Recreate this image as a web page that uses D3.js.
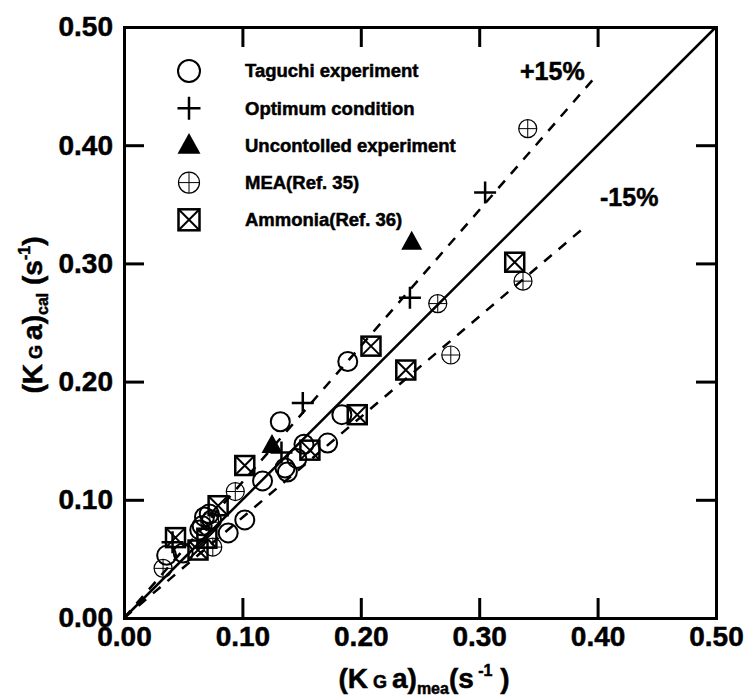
<!DOCTYPE html>
<html>
<head>
<script src="https://d3js.org/d3.v7.min.js"></script>
<style>
  body { margin: 0; background: #fff; }
  text { font-family: "Liberation Sans", Arial, sans-serif; font-weight: bold; stroke: #000; stroke-width: 0.5px; }
</style>
</head>
<body>
<div id="chart"></div>
<script>
const taguchi = [[0.036,0.053],[0.050,0.055],[0.064,0.0745],[0.068,0.0855],[0.074,0.083],[0.072,0.088],
  [0.088,0.072],[0.102,0.083],[0.117,0.116],[0.136,0.127],[0.138,0.1235],[0.146,0.135],[0.152,0.147],
  [0.172,0.148],[0.132,0.166],[0.184,0.172],[0.189,0.217],[0.066,0.078]];
const optimum = [[0.041,0.064],[0.133,0.140],[0.151,0.182],[0.2415,0.271],[0.305,0.360]];
const uncontrolled = [[0.125,0.146],[0.243,0.318]];
const mea = [[0.033,0.042],[0.0725,0.081],[0.075,0.060],[0.094,0.107],[0.265,0.266],[0.276,0.2225],
  [0.337,0.285],[0.341,0.414]];
const ammonia = [[0.0435,0.068],[0.0625,0.0575],[0.070,0.0675],[0.0795,0.095],[0.102,0.129],[0.157,0.142],
  [0.197,0.172],[0.2086,0.230],[0.238,0.2098],[0.330,0.301]];
const ticks = [0, 0.1, 0.2, 0.3, 0.4, 0.5];
const legendLabels = ["Taguchi experiment", "Optimum condition", "Uncontolled experiment", "MEA(Ref. 35)", "Ammonia(Ref. 36)"];
const bandFactors = [1.15, 0.85];
const bandEnds = [0.398, 0.39];

const W = 746, H = 699;
const margin = { top: 27, left: 124, right: 30, bottom: 81 };
const svg = d3.select("#chart").append("svg").attr("width", W).attr("height", H);

const x = d3.scaleLinear().domain([0, 0.5]).range([margin.left, W - margin.right]);
const y = d3.scaleLinear().domain([0, 0.5]).range([H - margin.bottom, margin.top]);
const fmt = d3.format(".2f");

// frame with inward ticks on all sides
const tl = 20;
svg.append("g").attr("transform", `translate(0,${y(0)})`)
  .call(d3.axisBottom(x).tickValues(ticks).tickSize(-tl).tickFormat(fmt).tickPadding(8))
  .call(g => g.selectAll("text").attr("font-size", 28).attr("fill", "#000").attr("dy", "0.72em"));
svg.append("g").attr("transform", `translate(${x(0)},0)`)
  .call(d3.axisLeft(y).tickValues(ticks).tickSize(-tl).tickFormat(fmt).tickPadding(11))
  .call(g => g.selectAll("text").attr("font-size", 28).attr("fill", "#000"));
svg.append("g").attr("transform", `translate(0,${y(0.5)})`)
  .call(d3.axisTop(x).tickValues(ticks).tickSize(-tl).tickFormat(""));
svg.append("g").attr("transform", `translate(${x(0.5)},0)`)
  .call(d3.axisRight(y).tickValues(ticks).tickSize(-tl).tickFormat(""));
svg.selectAll(".domain, .tick line").attr("stroke", "#000").attr("stroke-width", 3);
svg.selectAll(".domain").attr("stroke-linecap", "square");

// parity line and +-15% lines
svg.append("line").attr("x1", x(0)).attr("y1", y(0)).attr("x2", x(0.5)).attr("y2", y(0.5))
  .attr("stroke", "#000").attr("stroke-width", 2.5);
bandFactors.forEach((f, i) => {
  svg.append("line").attr("x1", x(0)).attr("y1", y(0)).attr("x2", x(bandEnds[i])).attr("y2", y(bandEnds[i] * f))
    .attr("stroke", "#000").attr("stroke-width", 2.5).attr("stroke-dasharray", "10,9");
});
svg.append("text").attr("x", 520).attr("y", 80).attr("font-size", 25).text("+15%");
svg.append("text").attr("x", 600).attr("y", 206).attr("font-size", 25).text("-15%");

// marker drawers
function circle(g, s) {
  g.append("circle").attr("r", s / 2).attr("fill", "none").attr("stroke", "#000").attr("stroke-width", 2);
}
function plus(g, s) {
  g.append("path").attr("d", `M${-s/2},0H${s/2}M0,${-s/2}V${s/2}`).attr("stroke", "#000").attr("stroke-width", 2.5);
}
function tri(g, s) {
  const h = s * 0.9;
  g.append("path").attr("d", `M0,${-h*0.6}L${s/2},${h*0.4}L${-s/2},${h*0.4}Z`).attr("fill", "#000");
}
function oplus(g, s) {
  g.append("circle").attr("r", s / 2).attr("fill", "none").attr("stroke", "#000").attr("stroke-width", 1.2);
  g.append("path").attr("d", `M${-s/2},0H${s/2}M0,${-s/2}V${s/2}`).attr("stroke", "#000").attr("stroke-width", 1);
}
function boxx(g, s) {
  const h = s / 2;
  g.append("rect").attr("x", -h).attr("y", -h).attr("width", s).attr("height", s)
    .attr("fill", "none").attr("stroke", "#000").attr("stroke-width", 2.5);
  g.append("path").attr("d", `M${-h},${-h}L${h},${h}M${h},${-h}L${-h},${h}`).attr("stroke", "#000").attr("stroke-width", 2);
}

const series = [
  { data: taguchi, draw: circle, size: 19, lsize: 22 },
  { data: optimum, draw: plus, size: 22, lsize: 23 },
  { data: uncontrolled, draw: tri, size: 21, lsize: 23 },
  { data: mea, draw: oplus, size: 18, lsize: 21 },
  { data: ammonia, draw: boxx, size: 19, lsize: 21 }
];

series.forEach(s => {
  s.data.forEach(d => {
    const g = svg.append("g").attr("transform", `translate(${x(d[0])},${y(d[1])})`);
    s.draw(g, s.size);
  });
});

// legend
const legend = svg.append("g").attr("transform", "translate(189,71)");
legendLabels.forEach((lab, i) => {
  const g = legend.append("g").attr("transform", `translate(0,${i * 37.2})`);
  series[i].draw(g, series[i].lsize);
  g.append("text").attr("x", 56).attr("dy", "0.35em").attr("font-size", 18.5).attr("stroke-width", 0.3).text(lab);
});

// axis titles
const xt = svg.append("text").attr("x", 424).attr("y", 688).attr("font-size", 28).attr("text-anchor", "middle");
xt.append("tspan").text("(K");
xt.append("tspan").attr("font-size", 18).text(" G ");
xt.append("tspan").text("a)");
xt.append("tspan").attr("font-size", 16).attr("dy", 6).text("mea");
xt.append("tspan").attr("dy", -6).text("(s");
xt.append("tspan").attr("font-size", 16).attr("dy", -12).text(" -1");
xt.append("tspan").attr("dy", 12).text(" )");

const yt = svg.append("text").attr("transform", "translate(42,315) rotate(-90)").attr("font-size", 28).attr("text-anchor", "middle");
yt.append("tspan").text("(K");
yt.append("tspan").attr("font-size", 18).text(" G ");
yt.append("tspan").text("a)");
yt.append("tspan").attr("font-size", 16).attr("dy", 6).text("cal");
yt.append("tspan").attr("dy", -6).text(" (s");
yt.append("tspan").attr("font-size", 16).attr("dy", -12).text("-1");
yt.append("tspan").attr("dy", 12).text(")");
</script>
</body>
</html>
